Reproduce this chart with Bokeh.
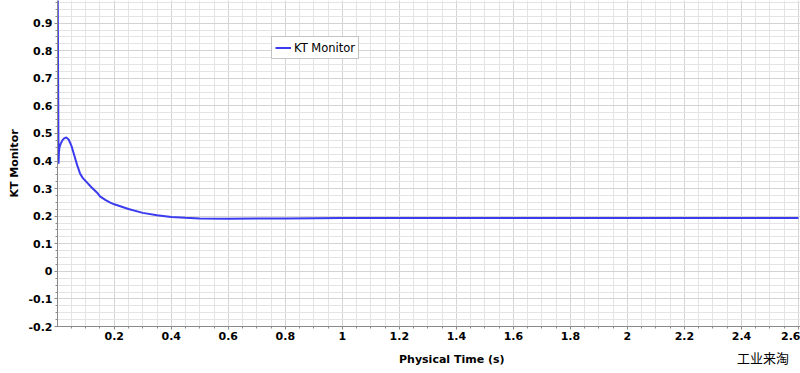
from bokeh.plotting import figure
from bokeh.models import (Range1d, SingleIntervalTicker, CustomJSTickFormatter,
                          Legend, LegendItem, Div)
from bokeh.layouts import column
from bokeh.embed import file_html
from bokeh.resources import INLINE

# Data
time_s = [0.001, 0.003, 0.0046, 0.006, 0.008, 0.012, 0.018, 0.025, 0.032, 0.04,
          0.05, 0.06, 0.07, 0.08, 0.09, 0.1, 0.12, 0.14, 0.15, 0.17, 0.186, 0.2,
          0.25, 0.3, 0.35, 0.4, 0.45, 0.5, 0.6, 0.8, 1.0, 1.2, 1.5, 2.0, 2.3, 2.6]
kt_monitor = [1.2, 0.75, 0.39, 0.43, 0.45, 0.462, 0.475, 0.483, 0.485, 0.478,
              0.455, 0.42, 0.385, 0.355, 0.338, 0.327, 0.305, 0.285, 0.272, 0.258,
              0.249, 0.243, 0.226, 0.212, 0.203, 0.197, 0.194, 0.192, 0.191, 0.192,
              0.193, 0.193, 0.193, 0.193, 0.193, 0.193]

x_title = "Physical Time (s)"
y_title = "KT Monitor"
series_name = "KT Monitor"
watermark = "工业来淘"

FONT = "DejaVu Sans"

p = figure(width=800, height=346, output_backend="svg", toolbar_location=None,
           x_range=Range1d(0.001, 2.607), y_range=Range1d(-0.2, 0.982),
           min_border_left=57, min_border_right=0, min_border_top=0,
           min_border_bottom=20, background_fill_color="white",
           border_fill_color="white", margin=0)
p.outline_line_color = None

fmt = CustomJSTickFormatter(code="return String(Number(tick.toFixed(3)));")

xt = SingleIntervalTicker(interval=0.2, num_minor_ticks=4)
yt = SingleIntervalTicker(interval=0.1, num_minor_ticks=4)
p.xaxis.ticker = xt
p.yaxis.ticker = yt
p.xgrid.ticker = xt
p.ygrid.ticker = yt
p.xaxis.formatter = fmt
p.yaxis.formatter = fmt

for ax in (p.xaxis, p.yaxis):
    ax.axis_line_color = "#8a8a8a"
    ax.major_tick_line_color = "#8a8a8a"
    ax.minor_tick_line_color = "#8a8a8a"
    ax.major_tick_in = 0
    ax.minor_tick_in = 0
    ax.major_tick_out = 3
    ax.minor_tick_out = 2
    ax.major_label_text_font = FONT
    ax.major_label_text_font_style = "bold"
    ax.major_label_text_font_size = "11px"
    ax.major_label_text_color = "black"
    ax.major_label_standoff = 2

p.yaxis.axis_label = y_title
p.yaxis.axis_label_text_font = FONT
p.yaxis.axis_label_text_font_style = "bold"
p.yaxis.axis_label_text_font_size = "11px"
p.yaxis.axis_label_text_color = "black"
p.yaxis.axis_label_standoff = 4

for g in (p.xgrid, p.ygrid):
    g.grid_line_color = "#d4d4d4"
    g.minor_grid_line_color = "#e4e4e4"

r = p.line(time_s, kt_monitor, line_color="#3b3bef", line_width=2)

legend = Legend(items=[LegendItem(label=series_name, renderers=[r])],
                location=(214, 267), padding=3, margin=0, spacing=0,
                glyph_width=16, glyph_height=15, label_height=15,
                label_standoff=3, label_text_font=FONT,
                label_text_font_size="11.5px", label_text_color="black",
                border_line_color="#8a8a8a", background_fill_color="white",
                background_fill_alpha=1.0)
p.add_layout(legend, "center")

footer_html = (
    "<div style='position:relative;width:800px;height:27px;'>"
    "<span style=\"position:absolute;left:399px;top:6px;white-space:nowrap;"
    "font-family:'DejaVu Sans';font-weight:bold;font-size:11px;color:black;\">"
    + x_title + "</span>"
    "<span style=\"position:absolute;left:737px;top:3px;white-space:nowrap;"
    "font-family:'Noto Sans CJK SC';font-weight:normal;font-size:13px;color:black;\">"
    + watermark + "</span></div>"
)
footer = Div(text=footer_html, width=800, height=27, margin=0)

layout = column(p, footer, spacing=0)

open("out.html", "w").write(file_html(layout, INLINE))
